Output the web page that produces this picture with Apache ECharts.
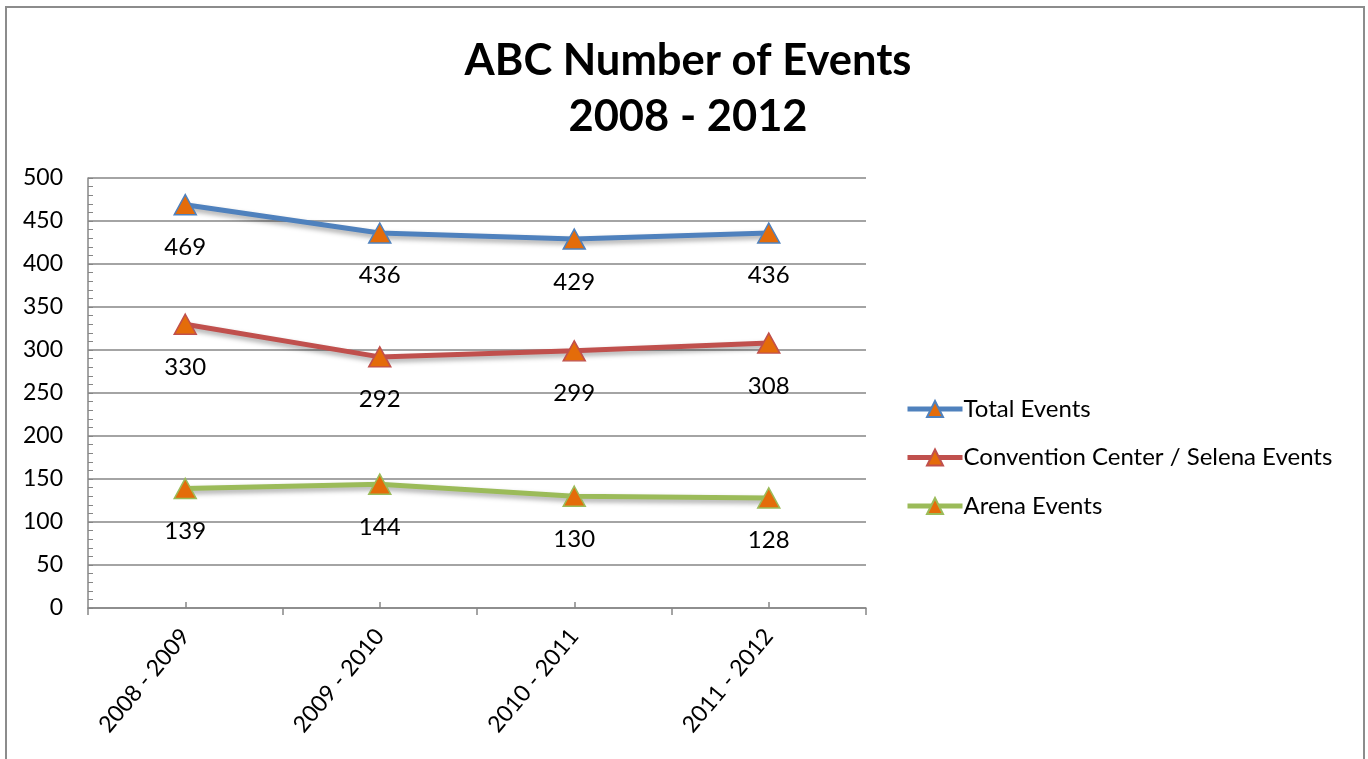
<!DOCTYPE html>
<html>
<head>
<meta charset="utf-8">
<script src="https://cdn.jsdelivr.net/npm/echarts@6/dist/echarts.min.js"></script>
<style>
html,body{margin:0;padding:0;background:#fff;}
#c{width:1368px;height:759px;}
</style>
</head>
<body>
<div id="c"></div>
<script>
var categories = ['2008 - 2009', '2009 - 2010', '2010 - 2011', '2011 - 2012'];
var totalEvents = [469, 436, 429, 436];
var conventionEvents = [330, 292, 299, 308];
var arenaEvents = [139, 144, 130, 128];
var seriesNames = ['Total Events', 'Convention Center / Selena Events', 'Arena Events'];

var FONT = 'Lato, "Open Sans", sans-serif';
var markerFill = '#E46C0A';

function mk(name, data, color) {
  return {
    name: name,
    type: 'line',
    data: data,
    xAxisIndex: 0,
    symbol: 'triangle',
    symbolSize: [22, 20],
    lineStyle: {
      color: color, width: 5,
      shadowColor: 'rgba(0,0,0,0.35)', shadowBlur: 5, shadowOffsetY: 3
    },
    itemStyle: { color: markerFill, borderColor: color, borderWidth: 1.5 },
    label: {
      show: true, position: 'bottom', distance: 20,
      fontFamily: FONT, fontSize: 24, color: '#000'
    },
    emphasis: { disabled: true },
    animation: false
  };
}

var chart = echarts.init(document.getElementById('c'));
chart.setOption({
  animation: false,
  title: {
    text: 'ABC Number of Events\n2008 - 2012',
    left: 683, top: 28, textAlign: 'center',
    textStyle: { fontFamily: FONT, fontSize: 43.5, fontWeight: 'bold', color: '#000', lineHeight: 56 }
  },
  grid: { left: 88, top: 178, width: 778, height: 430 },
  legend: {
    orient: 'vertical', left: 900, top: 392,
    itemWidth: 55, itemHeight: 20, itemGap: 24.5,
    lineStyle: { width: 5 },
    textStyle: { fontFamily: FONT, fontSize: 24, color: '#000', padding: [0, 0, 0, -4] },
    data: seriesNames
  },
  xAxis: [{
    type: 'category', data: categories, boundaryGap: true,
    axisLine: { lineStyle: { color: '#868686', width: 1.5 } },
    axisTick: { show: true, length: 7, lineStyle: { color: '#868686', width: 1.5 } },
    axisLabel: { rotate: 50, fontFamily: FONT, fontSize: 23, color: '#000', margin: 24 }
  }, {
    type: 'category', data: categories, boundaryGap: true, position: 'bottom',
    axisLine: { show: false },
    axisTick: { show: true, inside: true, alignWithLabel: true, length: 6, lineStyle: { color: '#868686', width: 1.5 } },
    axisLabel: { show: false },
    splitLine: { show: false }
  }],
  yAxis: {
    type: 'value', min: 0, max: 500, interval: 50,
    axisLine: { show: true, lineStyle: { color: '#868686', width: 1.5 } },
    axisTick: { show: true, inside: true, length: 5, lineStyle: { color: '#868686' } },
    minorTick: { show: true, splitNumber: 5, length: 5, lineStyle: { color: '#868686' } },
    splitLine: { lineStyle: { color: '#868686', width: 1.5 } },
    axisLabel: { fontFamily: FONT, fontSize: 23, color: '#000', margin: 25 }
  },
  graphic: [{
    type: 'rect', silent: true, z: -1,
    shape: { x: 6, y: 7, width: 1358, height: 800 },
    style: { fill: 'none', stroke: '#8c8c8c', lineWidth: 2 }
  }],
  series: [
    mk(seriesNames[0], totalEvents, '#4F81BD'),
    mk(seriesNames[1], conventionEvents, '#C0504D'),
    mk(seriesNames[2], arenaEvents, '#9BBB59')
  ]
});
</script>
</body>
</html>
